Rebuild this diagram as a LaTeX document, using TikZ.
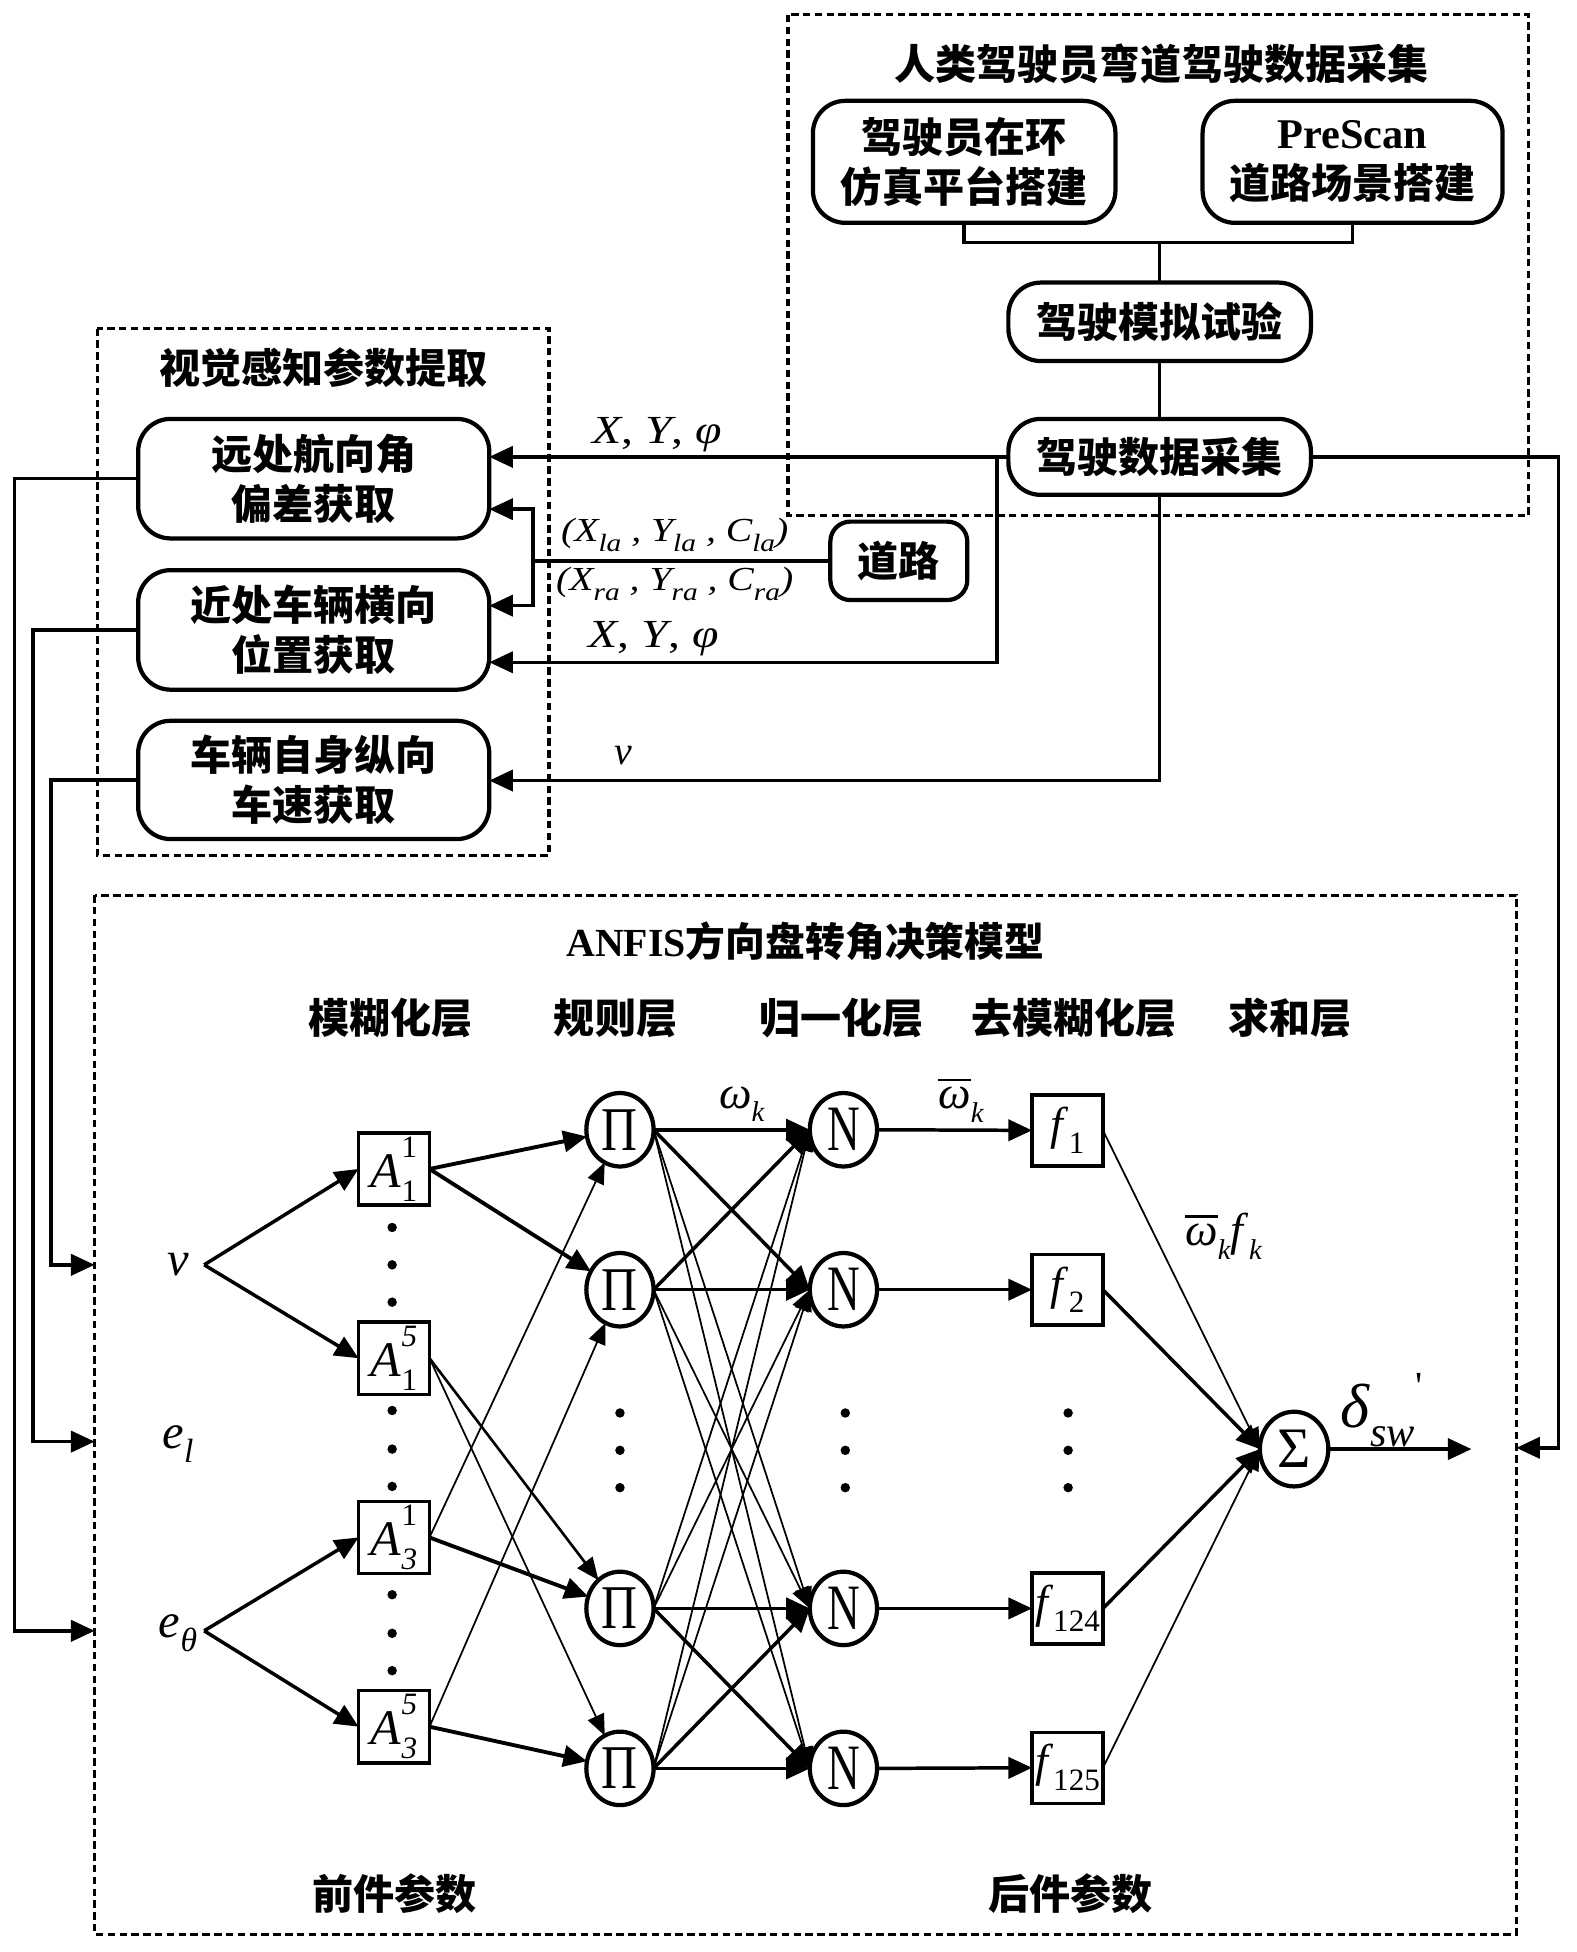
\documentclass[tikz,border=0pt]{standalone}
\usepackage{graphicx}
\usepackage{fontspec}
\setmainfont{Liberation Serif}
\newfontfamily\cjk{Noto Sans CJK SC}
\usetikzlibrary{arrows.meta,shapes.geometric}
\newcommand{\lo}[2]{\raisebox{-0.3em}{\fontsize{#1}{#1}\selectfont #2}}
\newcommand{\obar}[1]{\vbox{\hrule height 1.8pt\kern 5pt\hbox{#1}}}
\newcommand{\Alab}[2]{\fontsize{40}{40}\selectfont\textit{A}\rlap{\raisebox{0.6em}{\fontsize{25}{25}\selectfont #1}}\raisebox{-0.28em}{\fontsize{25}{25}\selectfont #2}}
\newcommand{\flab}[1]{\fontsize{37}{37}\selectfont\textit{f}\lo{25}{#1}}
\newcommand{\netl}{\fontsize{37}{37}\selectfont}
\begin{document}
\begin{tikzpicture}[x=1pt,y=-1pt]
\tikzset{
  every node/.style={inner sep=0pt, outer sep=0pt},
  rbox/.style={draw, line width=3.4pt, rounded corners=26pt, align=center,
    font=\cjk\bfseries\fontsize{33}{40.5}\selectfont},
  dbox/.style={draw, line width=2.5pt, dash pattern=on 6pt off 3.5pt},
  ttl/.style={font=\cjk\bfseries\fontsize{33}{33}\selectfont},
  conn/.style={line width=2.8pt},
  arr/.style={line width=2.8pt, -{Triangle[length=19pt,width=17pt]}},
  tarr/.style={line width=1.4pt, -{Triangle[length=17pt,width=14pt]}},
  marr/.style={line width=2.1pt, -{Triangle[length=18pt,width=15pt]}},
  karr/.style={line width=3.1pt, -{Triangle[length=19pt,width=17pt]}},
  abox/.style={draw, line width=2.8pt, minimum width=57pt, minimum height=58pt},
  fbox/.style={draw, line width=2.8pt, minimum width=57pt, minimum height=57pt},
  circ/.style={ellipse, draw, line width=3.4pt, minimum width=54pt, minimum height=59pt},
  lab/.style={font=\fontsize{32}{32}\selectfont},
  inl/.style={font=\fontsize{39}{39}\selectfont},
}
\path[fill=white] (0,0) rectangle (1266,1568);
\useasboundingbox (0,0) rectangle (1266,1568);

% ---------- dashed group boxes ----------
\draw[dbox] (633,12) rectangle (1228,414);
\draw[dbox] (78,264) rectangle (441,687);
\draw[dbox] (76,719) rectangle (1218,1554);

% ---------- top group ----------
\node[ttl] (t1) at (933,51) {人类驾驶员弯道驾驶数据采集};
\node[rbox, minimum width=243pt, minimum height=98pt] (drv) at (774.5,130) {驾驶员在环\\仿真平台搭建};
\node[rbox, minimum width=241pt, minimum height=98pt] (pre) at (1086.5,130) {{\rmfamily\bfseries\fontsize{34}{40.5}\selectfont PreScan}\\道路场景搭建};
\node[rbox, minimum width=243pt, minimum height=63pt] (sim) at (931.5,258.5) {驾驶模拟试验};
\node[rbox, minimum width=243pt, minimum height=61pt] (dc) at (931.5,367) {驾驶数据采集};
\coordinate (topJ) at (931.5,195);
\draw[conn] (drv.south) -- (drv.south |- topJ) -- (pre.south |- topJ) -- (pre.south);
\draw[conn] (topJ) -- (sim.north);
\draw[conn] (sim.south) -- (dc.north);

% ---------- perception group ----------
\node[ttl] (t2) at (260,295) {视觉感知参数提取};
\node[rbox, minimum width=282pt, minimum height=96pt] (far) at (252,384.5) {远处航向角\\偏差获取};
\node[rbox, minimum width=282pt, minimum height=96pt] (near) at (252,506) {近处车辆横向\\位置获取};
\node[rbox, minimum width=282pt, minimum height=95pt] (spd) at (252,626.5) {车辆自身纵向\\车速获取};
\node[rbox, rounded corners=16pt, minimum width=110pt, minimum height=63pt] (road) at (722,450.5) {道路};

% connectors from data collection
\coordinate (jL) at (801,367);
\coordinate (jLb) at (801,532);
\coordinate (dcb) at (931.5,627);
\coordinate (rt1) at (1252,367);
\coordinate (rt2) at (1252,1163);
\coordinate (rtEnd) at (1218,1163);
\draw[arr] (dc.west) -- (dc.west -| far.east);
\draw[arr] (jL) -- (jLb) -- (jLb -| near.east);
\draw[arr] (dc.south) -- (dcb) -- (dcb -| spd.east);
\draw[arr] (dc.east) -- (rt1) -- (rt2) -- (rtEnd);

% road connectors
\coordinate (rdJ) at (428,450.5);
\coordinate (rdT) at (428,409);
\coordinate (rdB) at (428,486.5);
\draw[conn] (road.west) -- (rdJ);
\draw[arr] (rdJ) -- (rdT) -- (rdT -| far.east);
\draw[arr] (rdJ) -- (rdB) -- (rdB -| near.east);

% labels on connectors
\node[lab] (lxy1) at (528,349) {\scalebox{1.2}[1]{\textit{X}, \textit{Y}, \textit{φ}}};
\node[lab] (lxy2) at (525,513) {\scalebox{1.2}[1]{\textit{X}, \textit{Y}, \textit{φ}}};
\node[lab] (lv) at (501,607) {\textit{v}};
\node[font=\fontsize{27}{27}\selectfont] (lla) at (542,430) {\scalebox{1.18}[1]{\textit{(X\lo{20}{la} , Y\lo{20}{la} , C\lo{20}{la})}}};
\node[font=\fontsize{27}{27}\selectfont] (lra) at (542,469) {\scalebox{1.18}[1]{\textit{(X\lo{20}{ra} , Y\lo{20}{ra} , C\lo{20}{ra})}}};

% feedback lines into ANFIS
\coordinate (inV) at (76,1016);
\coordinate (inL) at (76,1158);
\coordinate (inTh) at (76,1310);
\coordinate (L1) at (11.5,0);
\coordinate (L2) at (26.7,0);
\coordinate (L3) at (41,0);
\draw[arr] (far.west) -- (far.west -| L1) -- (L1 |- inTh) -- (inTh);
\draw[arr] (near.west) -- (near.west -| L2) -- (L2 |- inL) -- (inL);
\draw[arr] (spd.west) -- (spd.west -| L3) -- (L3 |- inV) -- (inV);

% ---------- ANFIS ----------
\node[font=\bfseries\fontsize{32}{32}\selectfont] (t3) at (647,756) {ANFIS{\cjk\bfseries 方向盘转角决策模型}};
\node[ttl] (ly1) at (313.5,818) {模糊化层};
\node[ttl] (ly2) at (494.5,818) {规则层};
\node[ttl] (ly3) at (676,818) {归一化层};
\node[ttl] (ly4) at (863,818) {去模糊化层};
\node[ttl] (ly5) at (1036,818) {求和层};
\node[ttl] (pa) at (317,1521) {前件参数};
\node[ttl] (pb) at (860,1521) {后件参数};

% inputs
\node[inl] (iv) at (143,1016) {\textit{v}};
\node[inl] (il) at (143,1160) {\textit{e}\lo{27}{\textit{l}}};
\node[inl] (ith) at (143,1312) {\textit{e}\lo{27}{\textit{θ}}};
\coordinate (vB) at (164,1016);
\coordinate (thB) at (164,1310);

% layer 1
\node[abox] (A11) at (316.5,939) {\Alab{1}{1}};
\node[abox] (A15) at (316.5,1091) {\Alab{\textit{5}}{1}};
\node[abox] (A31) at (316.5,1235) {\Alab{1}{\textit{3}}};
\node[abox] (A35) at (316.5,1387) {\Alab{\textit{5}}{\textit{3}}};

% layer 2
\node[circ] (P1) at (498,907.5) {\scalebox{0.8}[1]{\fontsize{50}{50}\selectfont Π}};
\node[circ] (P2) at (498,1036) {\scalebox{0.8}[1]{\fontsize{50}{50}\selectfont Π}};
\node[circ] (P3) at (498,1292) {\scalebox{0.8}[1]{\fontsize{50}{50}\selectfont Π}};
\node[circ] (P4) at (498,1420.5) {\scalebox{0.8}[1]{\fontsize{50}{50}\selectfont Π}};

% layer 3
\node[circ] (N1) at (677.5,907.5) {\scalebox{0.7}[1]{\fontsize{52}{52}\selectfont N}};
\node[circ] (N2) at (677.5,1036) {\scalebox{0.7}[1]{\fontsize{52}{52}\selectfont N}};
\node[circ] (N3) at (677.5,1292) {\scalebox{0.7}[1]{\fontsize{52}{52}\selectfont N}};
\node[circ] (N4) at (677.5,1420.5) {\scalebox{0.7}[1]{\fontsize{52}{52}\selectfont N}};

% layer 4
\node[fbox] (F1) at (857.5,908) {\flab{1}};
\node[fbox] (F2) at (857.5,1036) {\flab{2}};
\node[fbox] (F3) at (857.5,1292) {\flab{124}};
\node[fbox] (F4) at (857.5,1420) {\flab{125}};

% layer 5
\node[circ, minimum width=55pt, minimum height=60pt] (S) at (1039.5,1164) {\fontsize{46}{46}\selectfont Σ};
\coordinate (outEnd) at (1182,1164);

% dots
\foreach \y in {986,1016,1046,1133,1164,1194,1281,1312,1342} \fill (315,\y) circle (3.8);
\foreach \x in {498,679,858} \foreach \y in {1135,1165,1195} \fill (\x,\y) circle (3.8);

% input arrows
\draw[arr] (vB) -- (A11.west);
\draw[arr] (vB) -- (A15.west);
\draw[arr] (thB) -- (A31.west);
\draw[arr] (thB) -- (A35.west);

% layer1 -> layer2
\draw[karr] (A11.east) -- (P1);
\draw[karr] (A11.east) -- (P2);
\draw[marr] (A15.east) -- (P3);
\draw[tarr] (A15.east) -- (P4);
\draw[tarr] (A31.east) -- (P1);
\draw[karr] (A31.east) -- (P3);
\draw[tarr] (A35.east) -- (P2);
\draw[karr] (A35.east) -- (P4);

% layer2 -> layer3
\draw[arr] (P1.east) -- (N1.west);
\draw[arr] (P1.east) -- (N2.west);
\draw[arr] (P2.east) -- (N1.west);
\draw[arr] (P2.east) -- (N2.west);
\draw[arr] (P3.east) -- (N3.west);
\draw[arr] (P3.east) -- (N4.west);
\draw[arr] (P4.east) -- (N3.west);
\draw[arr] (P4.east) -- (N4.west);
\foreach \a in {1,2} \foreach \b in {3,4} {
  \draw[tarr] (P\a.east) -- (N\b.west);
  \draw[tarr] (P\b.east) -- (N\a.west);
}

% layer3 -> layer4
\draw[arr] (N1.east) -- (F1.west);
\draw[arr] (N2.east) -- (F2.west);
\draw[arr] (N3.east) -- (F3.west);
\draw[arr] (N4.east) -- (F4.west);

% layer4 -> sum
\draw[tarr] (F1.east) -- (S.west);
\draw[arr] (F2.east) -- (S.west);
\draw[arr] (F3.east) -- (S.west);
\draw[tarr] (F4.east) -- (S.west);
\draw[arr] (S.east) -- (outEnd);

% network labels
\node (wk) at (596,887) {\netl\textit{ω}\lo{23}{\textit{k}}};
\node (wbk) at (772,884) {\netl\obar{\textit{ω}}\lo{23}{\textit{k}}};
\node (wf) at (983,993) {\netl\obar{\textit{ω}}\lo{23}{\textit{k}}\textit{f}\lo{23}{\textit{k}}};
\node[anchor=base west] (dl) at (1077,1147) {\fontsize{50}{50}\selectfont\textit{δ}\lo{34}{\textit{sw}}\raisebox{0.45em}{\fontsize{32}{32}\selectfont\textquotesingle}};
\end{tikzpicture}
\end{document}
